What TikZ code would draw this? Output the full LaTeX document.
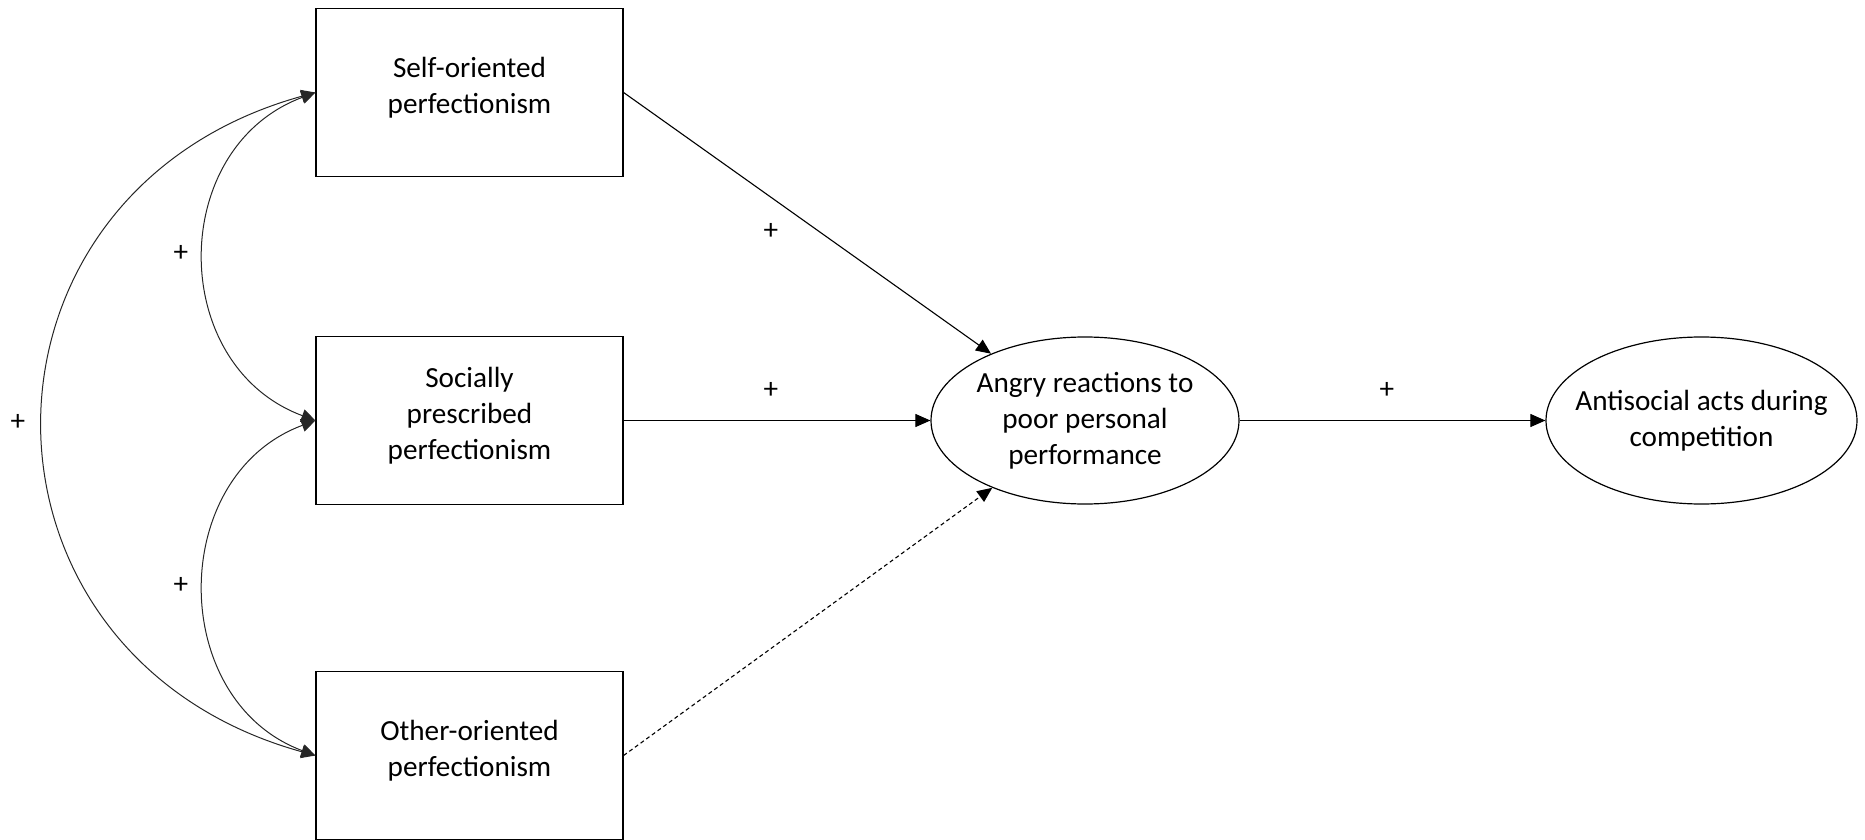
\documentclass[tikz,border=0pt]{standalone}
\usepackage{fontspec}
\setmainfont{Carlito}
\usetikzlibrary{arrows.meta,shapes.geometric}
\begin{document}
\begin{tikzpicture}[x=0.5pt,y=-0.5pt,
  every node/.style={font=\fontsize{14.6}{18}\selectfont},
  varbox/.style={draw, line width=0.6pt, minimum width=153.5pt, minimum height=84pt, inner sep=0pt},
  latent/.style={draw, ellipse, line width=0.6pt, inner sep=0pt},
  caption/.style={align=center, inner sep=0pt},
  effect/.style={line width=0.55pt, -{Triangle[length=7.5pt,width=6.5pt]}},
  cov/.style={line width=0.5pt, draw=black!85, {Triangle[length=7pt,width=6.5pt]}-{Triangle[length=7pt,width=6.5pt]}},
  sign/.style={inner sep=0pt}
]
\useasboundingbox (0,0) rectangle (1865,840);

% observed perfectionism dimensions
\node[varbox] (b1) at (469.5,92.5) {};
\node[caption, yshift=2.5pt] (c1) at (b1.center) {Self-oriented\\perfectionism};
\node[varbox] (b2) at (469.5,420.5) {};
\node[caption, yshift=2.5pt] (c2) at (b2.center) {Socially\\prescribed\\perfectionism};
\node[varbox] (b3) at (469.5,755.5) {};
\node[caption, yshift=2.5pt] (c3) at (b3.center) {Other-oriented\\perfectionism};

% outcome ellipses
\node[latent, minimum width=154pt, minimum height=83.5pt] (e1) at (1085,420.5) {};
\node[caption] (t1) at (e1.center) {Angry reactions to\\poor personal\\performance};
\node[latent, minimum width=155.5pt, minimum height=83.5pt] (e2) at (1701.5,420.5) {};
\node[caption] (t2) at (e2.center) {Antisocial acts during\\competition};

% directed effects
\draw[effect] (b1.east) -- (e1);
\draw[effect] (b2.east) -- (e1.west);
\draw[effect, dashed, dash pattern=on 2pt off 1.5pt] (b3.east) -- (e1);
\draw[effect] (e1.east) -- (e2.west);

% covariances between the perfectionism dimensions
\draw[cov] (b1.west) .. controls +(-148,55) and +(-148,-55) .. (b2.west);
\draw[cov] (b2.west) .. controls +(-148,55) and +(-148,-55) .. (b3.west);
\draw[cov] (b1.west) .. controls +(-362,100) and +(-362,-100) .. (b3.west);

% signs
\node[sign] (s1) at (771,231) {+};
\node[sign] (s2) at (771,390) {+};
\node[sign] (s3) at (1387,390) {+};
\node[sign] (s4) at (181,253) {+};
\node[sign] (s5) at (181,585) {+};
\node[sign] (s6) at (18,422) {+};
\end{tikzpicture}
\end{document}
